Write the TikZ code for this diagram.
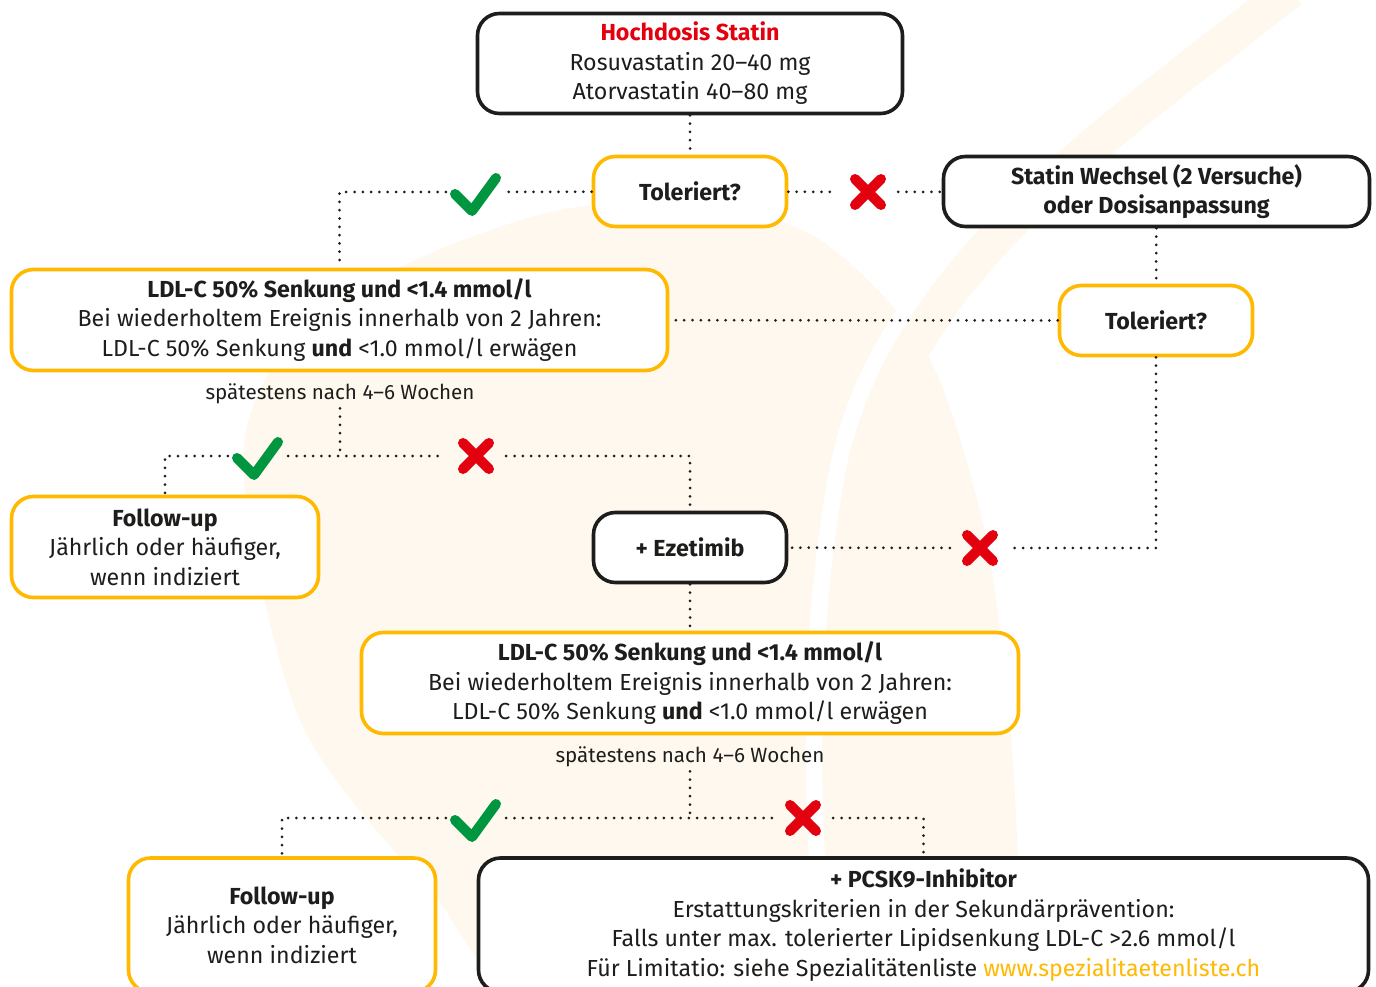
\documentclass[tikz,border=0pt]{standalone}
\usepackage{fontspec}
\setmainfont{Fira Sans}
\newfontfamily\regfont{Fira Sans}
\usepackage{xcolor}
\usepackage{tikz}
\usetikzlibrary{calc}
\usetikzlibrary{positioning}

\definecolor{ink}{HTML}{1D1D1B}
\definecolor{boxblack}{HTML}{1D1D1B}
\definecolor{boxyellow}{HTML}{FFB900}
\definecolor{okgreen}{HTML}{009640}
\definecolor{nored}{HTML}{E3000F}
\definecolor{cream}{HTML}{FEF8EE}

\newcommand{\txtsize}{\fontsize{23.2}{29.5}\selectfont}

\tikzset{
  box/.style={rectangle, rounded corners=22pt, line width=3.6pt, fill=white,
    align=center, inner sep=0pt, text=ink, font=\txtsize},
  blackbox/.style={box, draw=boxblack},
  yellowbox/.style={box, draw=boxyellow},
  conn/.style={draw=ink, line width=3pt, line cap=round, dash pattern=on 0pt off 8.3pt},
  markspot/.style={circle, minimum size=60pt, inner sep=0pt},
  note/.style={inner sep=4pt, text=ink, font=\regfont\fontsize{20.6}{24}\selectfont},
  chk/.pic={\draw[okgreen, line width=10pt, line cap=round, line join=round]
    (-21,2) -- (-4,19) -- (20,-14);},
  crs/.pic={\draw[nored, line width=10pt, line cap=round]
    (-13,-13) -- (13,13) (-13,13) -- (13,-13);}
}

\begin{document}
\begin{tikzpicture}[x=1pt, y=-1pt]
\useasboundingbox (0,0) rectangle (1376,987);
\fill[white] (0,0) rectangle (1376,987);

% watermark
\fill[cream] plot[smooth cycle] coordinates {(243,460) (300,330) (420,258) (560,210) (700,203) (820,240) (925,350) (982,520) (1008,700) (1018,860) (1024,1010) (560,1010) (430,890) (300,720)};
\draw[white, line width=17pt] (1262,-10) .. controls (1080,130) and (880,260) .. (838,469) .. controls (805,640) and (810,850) .. (831,1000);
\draw[cream, line width=36pt] (1290,-10) .. controls (1108,135) and (908,265) .. (864,472) .. controls (831,645) and (836,850) .. (857,1000);

% boxes
\node[blackbox, minimum width=425pt, minimum height=100pt] (hoch) at (690,63.5)
  {\textbf{\textcolor{nored}{Hochdosis Statin}}\\ Rosuvastatin 20–40 mg\\ Atorvastatin 40–80 mg};
\node[yellowbox, minimum width=193pt, minimum height=70pt] (tol1) at (690,191.5)
  {\textbf{Toleriert?}};
\node[blackbox, minimum width=426pt, minimum height=70pt] (statw) at (1156.5,191.5)
  {\textbf{Statin Wechsel (2 Versuche)}\\ \textbf{oder Dosisanpassung}};
\node[yellowbox, minimum width=656pt, minimum height=101pt] (ldl1) at (339.5,320)
  {\textbf{LDL-C 50\% Senkung und <1.4 mmol/l}\\ Bei wiederholtem Ereignis innerhalb von 2 Jahren:\\ LDL-C 50\% Senkung \textbf{und} <1.0 mmol/l erwägen};
\node[yellowbox, minimum width=193pt, minimum height=70pt] (tol2) at (1156,320.5)
  {\textbf{Toleriert?}};
\node[note] (spaet1) at (340,394) {spätestens nach 4–6 Wochen};
\node[yellowbox, minimum width=307pt, minimum height=101pt] (fu1) at (165,547)
  {\textbf{Follow-up}\\ Jährlich oder häufiger,\\ wenn indiziert};
\node[blackbox, minimum width=193pt, minimum height=70pt] (eze) at (690,547.5)
  {\textbf{+ Ezetimib}};
\node[yellowbox, minimum width=657pt, minimum height=101pt] (ldl2) at (690,683)
  {\textbf{LDL-C 50\% Senkung und <1.4 mmol/l}\\ Bei wiederholtem Ereignis innerhalb von 2 Jahren:\\ LDL-C 50\% Senkung \textbf{und} <1.0 mmol/l erwägen};
\node[note] (spaet2) at (690,757) {spätestens nach 4–6 Wochen};
\node[yellowbox, minimum width=307pt, minimum height=134pt] (fu2) at (282,925)
  {\textbf{Follow-up}\\ Jährlich oder häufiger,\\ wenn indiziert};
\node[blackbox, minimum width=890pt, minimum height=134pt] (pcsk) at (923.5,925)
  {\textbf{+ PCSK9-Inhibitor}\\ Erstattungskriterien in der Sekundärprävention:\\ Falls unter max. tolerierter Lipidsenkung LDL-C >2.6 mmol/l\\ Für Limitatio: siehe Spezialitätenliste \textcolor{boxyellow}{www.spezialitaetenliste.ch}};

% yes / no marks
\node[markspot] (t1yes) at (476,192) {};
\node[markspot] (t1no) at (868,192) {};
\node[markspot] (t2no) at (980,548) {};
\node[markspot] (c1yes) at (258,456) {};
\node[markspot] (c1no) at (476,456) {};
\node[markspot] (c2yes) at (476,818) {};
\node[markspot] (c2no) at (803,818) {};
\coordinate (j1) at (340,456);
\coordinate (j2) at (690,818);
\foreach \m in {t1yes,c1yes,c2yes} \pic at (\m) {chk};
\foreach \m in {t1no,t2no,c1no,c2no} \pic at (\m) {crs};

% connectors
\draw[conn] (hoch) -- (tol1);
\draw[conn] (tol1) -- (t1yes);
\draw[conn] (t1yes) -| (ldl1.north);
\draw[conn] (tol1) -- (t1no);
\draw[conn] (t1no) -- (statw);
\draw[conn] (statw) -- (tol2);
\draw[conn] (tol2) -- (ldl1);
\draw[conn] (tol2.south) |- (t2no);
\draw[conn] (t2no) -- (eze);
\draw[conn] (spaet1) -- (j1);
\draw[conn] (c1yes) -| (fu1.north);
\draw[conn] (c1yes) -- (c1no);
\draw[conn] (c1no) -| (eze.north);
\draw[conn] (eze) -- (ldl2);
\draw[conn] (spaet2) -- (j2);
\draw[conn] (c2yes) -| (fu2.north);
\draw[conn] (c2yes) -- (c2no);
\draw[conn] (c2no) -| (pcsk.north);
\end{tikzpicture}
\end{document}
